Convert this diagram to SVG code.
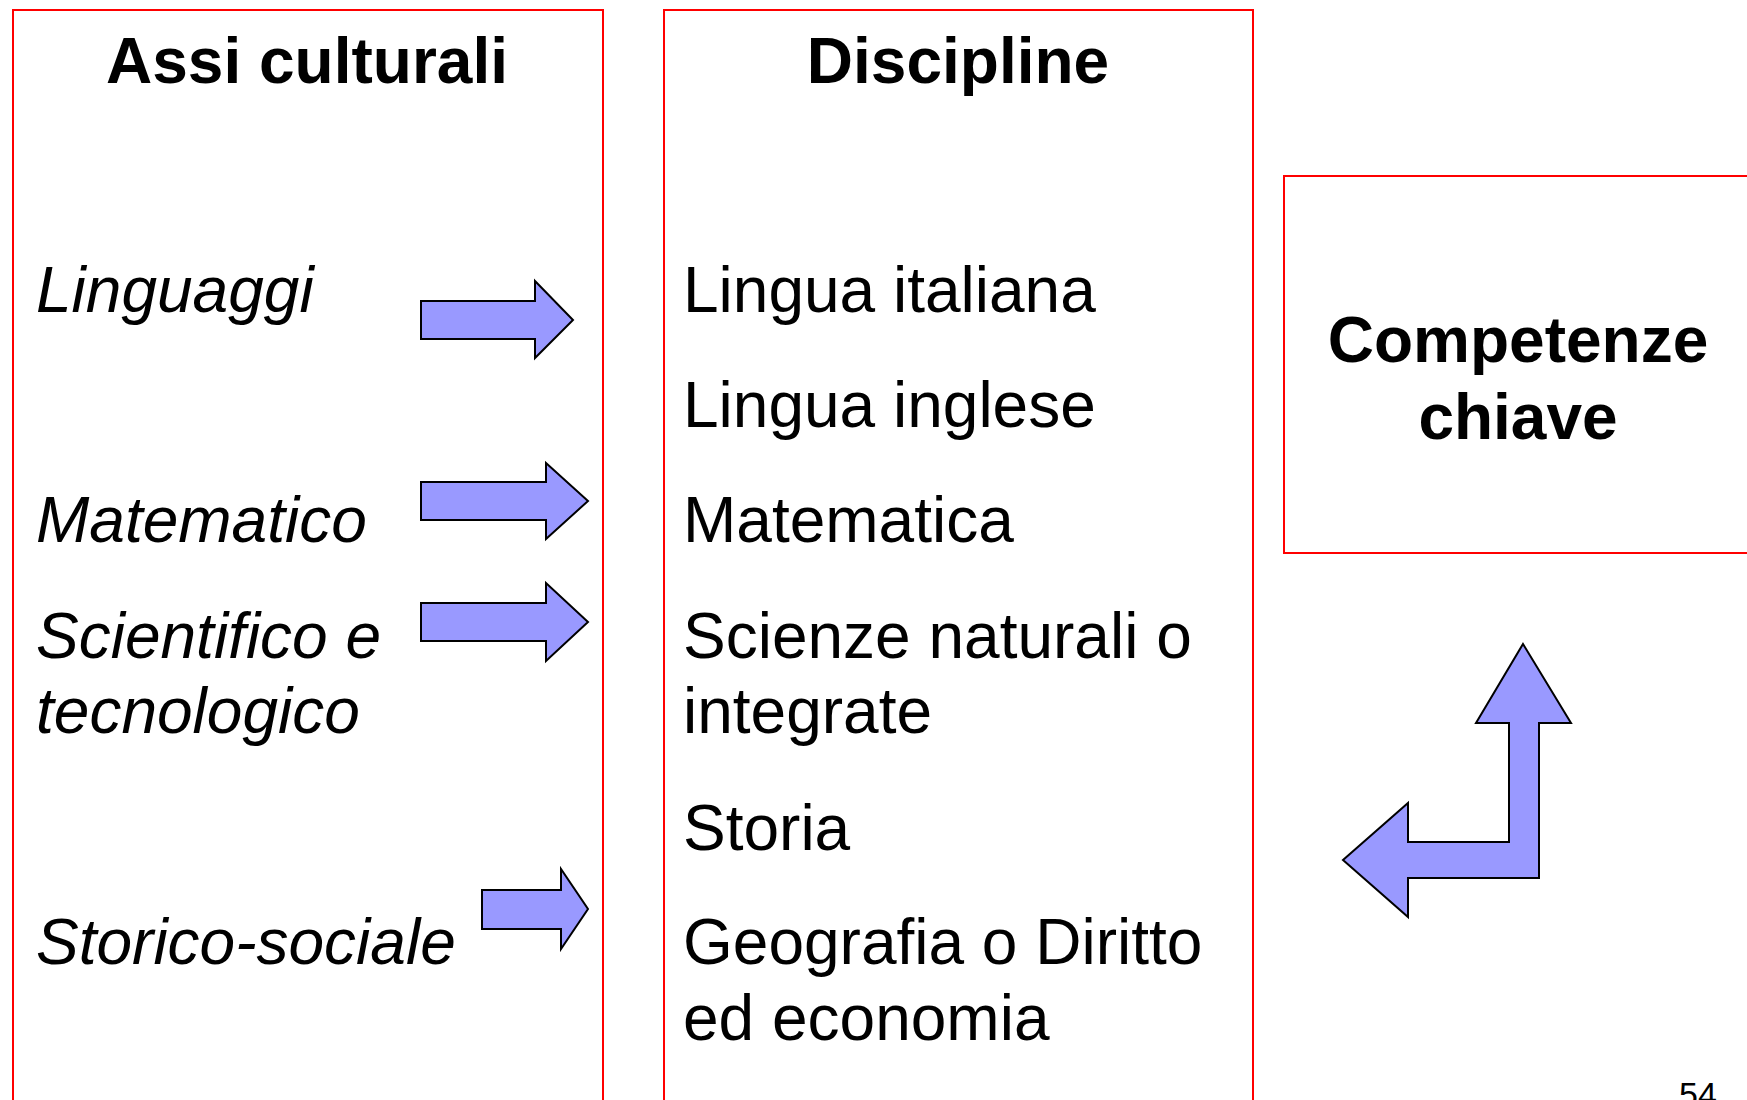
<svg xmlns="http://www.w3.org/2000/svg" width="1747" height="1100" viewBox="0 0 1747 1100">
<style>
.box{fill:none;stroke:#ff0000;stroke-width:2}
.t{font-family:"Liberation Sans",Arial,sans-serif;font-size:64px;fill:#000}
.b{font-weight:bold}
.i{font-style:italic}
.arr{fill:#9999ff;stroke:#000;stroke-width:2;stroke-linejoin:miter}
</style>
<rect width="1747" height="1100" fill="#fff"/>
<g id="assi">
<rect class="box" x="13" y="10" width="590" height="1120"/>
<text class="t b" x="307" y="83" text-anchor="middle">Assi culturali</text>
<text class="t i" x="36" y="312">Linguaggi</text>
<text class="t i" x="36" y="542">Matematico</text>
<text class="t i" x="36" y="658">Scientifico e</text>
<text class="t i" x="36" y="733">tecnologico</text>
<text class="t i" x="36" y="964">Storico-sociale</text>
</g>
<g id="discipline">
<rect class="box" x="664" y="10" width="589" height="1120"/>
<text class="t b" x="958" y="83" text-anchor="middle">Discipline</text>
<text class="t" x="683" y="312">Lingua italiana</text>
<text class="t" x="683" y="427">Lingua inglese</text>
<text class="t" x="683" y="542">Matematica</text>
<text class="t" x="683" y="658">Scienze naturali o</text>
<text class="t" x="683" y="733">integrate</text>
<text class="t" x="683" y="850">Storia</text>
<text class="t" x="683" y="964">Geografia o Diritto</text>
<text class="t" x="683" y="1040">ed economia</text>
</g>
<g id="competenze">
<rect class="box" x="1284" y="176" width="500" height="377"/>
<text class="t b" x="1518" y="362" text-anchor="middle">Competenze</text>
<text class="t b" x="1518" y="439" text-anchor="middle">chiave</text>
</g>
<g id="connectors">
<polygon class="arr" points="421,301 535,301 535,281 573,320 535,358 535,339 421,339"/>
<polygon class="arr" points="421,482 546,482 546,463 588,501 546,539 546,520 421,520"/>
<polygon class="arr" points="421,603 546,603 546,583 588,622 546,661 546,641 421,641"/>
<polygon class="arr" points="482,890 561,890 561,869 588,909 561,949 561,929 482,929"/>
<polygon class="arr" points="1523,644 1571,723 1539,723 1539,878 1408,878 1408,917 1343,860 1408,803 1408,842 1509,842 1509,723 1476,723"/>
</g>
<text x="1679" y="1106" font-family="Liberation Sans,Arial,sans-serif" font-size="34" fill="#000">54</text>
</svg>
